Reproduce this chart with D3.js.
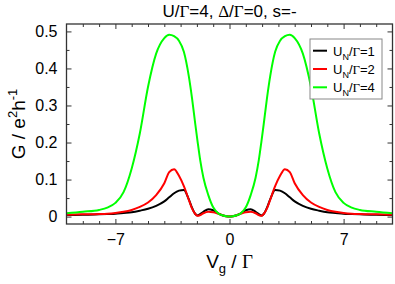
<!DOCTYPE html>
<html>
<head>
<meta charset="utf-8">
<script src="https://cdn.jsdelivr.net/npm/d3@7"></script>
<style>
  body { margin: 0; background: #fff; }
  svg { display: block; font-family: "Liberation Sans", Arial, sans-serif; }
  .greek { font-family: "Liberation Serif", "Times New Roman", serif; }
</style>
</head>
<body>
<svg id="chart" width="395" height="284"></svg>
<script>
// gate voltage grid (V_g / Gamma)
const vg = [-10,-9,-8,-7.5,-7,-6.5,-6,-5.5,-5,-4.5,-4,-3.7,-3.4,-3.1,-2.8,-2.5,-2.3,-2.1,-1.95,-1.8,-1.6,-1.3,-1,-0.7,-0.4,-0.2,0,
            0.2,0.4,0.7,1,1.3,1.6,1.8,1.95,2.1,2.3,2.5,2.8,3.1,3.4,3.7,4,4.5,5,5.5,6,6.5,7,7.5,8,9,10];

// conductance G / e^2 h^-1 for each U_N
const gUN1 = [0.004,0.005,0.006,0.007,0.008,0.010,0.012,0.016,0.021,0.029,0.041,0.052,0.063,0.070,0.072,0.047,0.024,0.007,0.003,0.007,0.013,0.020,0.017,0.009,0.003,0.001,0,
              0.001,0.003,0.009,0.017,0.020,0.013,0.007,0.003,0.007,0.024,0.047,0.072,0.070,0.063,0.052,0.041,0.029,0.021,0.016,0.012,0.010,0.008,0.007,0.006,0.005,0.004];
const gUN2 = [0.005,0.006,0.007,0.008,0.010,0.013,0.018,0.026,0.038,0.058,0.090,0.120,0.128,0.110,0.082,0.046,0.022,0.007,0.002,0.004,0.009,0.013,0.012,0.008,0.003,0.001,0,
              0.001,0.003,0.008,0.012,0.013,0.009,0.004,0.002,0.007,0.022,0.046,0.082,0.110,0.128,0.120,0.090,0.058,0.038,0.026,0.018,0.013,0.010,0.008,0.007,0.006,0.005];
const gUN4 = [0.009,0.013,0.018,0.024,0.037,0.066,0.130,0.225,0.350,0.440,0.482,0.491,0.487,0.475,0.445,0.380,0.320,0.250,0.200,0.153,0.105,0.058,0.025,0.009,0.003,0.001,0,
              0.001,0.003,0.009,0.025,0.058,0.105,0.153,0.200,0.250,0.320,0.380,0.445,0.475,0.487,0.491,0.482,0.440,0.350,0.225,0.130,0.066,0.037,0.024,0.018,0.013,0.009];

const seriesNames = ["1", "2", "4"];
const seriesColors = ["#000000", "#ff0000", "#00ff00"];
const seriesValues = [gUN1, gUN2, gUN4];

const xMajor = [-7, 0, 7];
const yMajor = [0, 0.1, 0.2, 0.3, 0.4, 0.5];
const yLabels = ["0", "0.1", "0.2", "0.3", "0.4", "0.5"];

const margin = {top: 24, right: 2.5, bottom: 60, left: 66.5};
const W = 395, H = 284;
const w = W - margin.left - margin.right,
      h = H - margin.top - margin.bottom;

const svg = d3.select("#chart");
const g = svg.append("g").attr("transform", "translate(" + margin.left + "," + margin.top + ")");

const x = d3.scaleLinear().domain([-10, 10]).range([0, w]);
const y = d3.scaleLinear().domain([-0.02, 0.52]).range([h, 0]);

// clip so curves stay in the frame
g.append("defs").append("clipPath").attr("id", "clip")
  .append("rect").attr("width", w).attr("height", h);

const line = d3.line()
  .curve(d3.curveMonotoneX)
  .x(d => x(d[0]))
  .y(d => y(d[1]));

const plot = g.append("g").attr("clip-path", "url(#clip)");
seriesValues.forEach((vals, i) => {
  plot.append("path")
    .datum(vg.map((v, k) => [v, vals[k]]))
    .attr("d", line)
    .style("fill", "none")
    .style("stroke", seriesColors[i])
    .style("stroke-width", 2);
});

// ticks, all pointing inward
const xMinor = d3.range(-9, 10, 1).filter(v => xMajor.indexOf(v) < 0);
const yMinor = d3.range(0.05, 0.5, 0.1);

const styleAxis = sel => {
  sel.select(".domain").remove();
  sel.selectAll(".tick line").style("stroke", "#333").style("stroke-width", 1);
};

g.append("g").attr("transform", "translate(0," + h + ")")
  .call(d3.axisBottom(x).tickValues(xMajor).tickSize(-5).tickPadding(10).tickFormat(d3.format("d")))
  .call(styleAxis)
  .call(s => s.selectAll("text").style("font-size", "16px").style("fill", "#000").attr("font-family", "Liberation Sans, Arial"));
g.append("g").attr("transform", "translate(0," + h + ")")
  .call(d3.axisBottom(x).tickValues(xMinor).tickSize(-3).tickFormat(""))
  .call(styleAxis);
g.append("g")
  .call(d3.axisTop(x).tickValues(xMajor).tickSize(-5).tickFormat(""))
  .call(styleAxis);
g.append("g")
  .call(d3.axisTop(x).tickValues(xMinor).tickSize(-3).tickFormat(""))
  .call(styleAxis);

g.append("g")
  .call(d3.axisLeft(y).tickValues(yMajor).tickSize(-5).tickPadding(9).tickFormat((d, i) => yLabels[i]))
  .call(styleAxis)
  .call(s => s.selectAll("text").style("font-size", "16px").style("fill", "#000").attr("font-family", "Liberation Sans, Arial"));
g.append("g")
  .call(d3.axisLeft(y).tickValues(yMinor).tickSize(-3).tickFormat(""))
  .call(styleAxis);
g.append("g").attr("transform", "translate(" + w + ",0)")
  .call(d3.axisRight(y).tickValues(yMajor).tickSize(-5).tickFormat(""))
  .call(styleAxis);
g.append("g").attr("transform", "translate(" + w + ",0)")
  .call(d3.axisRight(y).tickValues(yMinor).tickSize(-3).tickFormat(""))
  .call(styleAxis);

// frame
g.append("rect")
  .attr("width", w).attr("height", h)
  .style("fill", "none").style("stroke", "#333").style("stroke-width", 1.3);

// title
const title = svg.append("text")
  .attr("x", margin.left + w / 2).attr("y", 17)
  .attr("text-anchor", "middle")
  .style("font-size", "17px");
title.append("tspan").text("U/");
title.append("tspan").attr("class", "greek").text("Γ");
title.append("tspan").text("=4, ");
title.append("tspan").attr("class", "greek").text("Δ");
title.append("tspan").text("/");
title.append("tspan").attr("class", "greek").text("Γ");
title.append("tspan").text("=0, s=-");

// x label
const xl = svg.append("text")
  .attr("x", margin.left + w / 2).attr("y", 268)
  .attr("text-anchor", "middle")
  .style("font-size", "19px");
xl.append("tspan").text("V");
xl.append("tspan").attr("dy", 5).style("font-size", "13px").text("g");
xl.append("tspan").attr("dy", -5).text(" / ");
xl.append("tspan").attr("class", "greek").text("Γ");

// y label
const yl = svg.append("text")
  .attr("transform", "translate(25," + (margin.top + h / 2) + ") rotate(-90)")
  .attr("text-anchor", "middle")
  .style("font-size", "19px");
yl.append("tspan").text("G / e");
yl.append("tspan").attr("dy", -8).style("font-size", "13px").text("2");
yl.append("tspan").attr("dy", 8).text("h");
yl.append("tspan").attr("dy", -8).style("font-size", "13px").text("-1");

// legend
const leg = svg.append("g").attr("transform", "translate(310,39)");
leg.append("rect")
  .attr("width", 72).attr("height", 60)
  .style("fill", "#fff").style("stroke", "#888").style("stroke-width", 1);
seriesNames.forEach((n, i) => {
  const cy = 11.7 + i * 18.3;
  leg.append("line")
    .attr("x1", 3).attr("x2", 17).attr("y1", cy).attr("y2", cy)
    .style("stroke", seriesColors[i]).style("stroke-width", 2);
  const t = leg.append("text")
    .attr("x", 23).attr("y", cy + 5)
    .style("font-size", "13px");
  t.append("tspan").text("U");
  t.append("tspan").attr("dy", 4).style("font-size", "9px").text("N");
  t.append("tspan").attr("dy", -4).text("/");
  t.append("tspan").attr("class", "greek").text("Γ");
  t.append("tspan").text("=" + n);
});
</script>
</body>
</html>
